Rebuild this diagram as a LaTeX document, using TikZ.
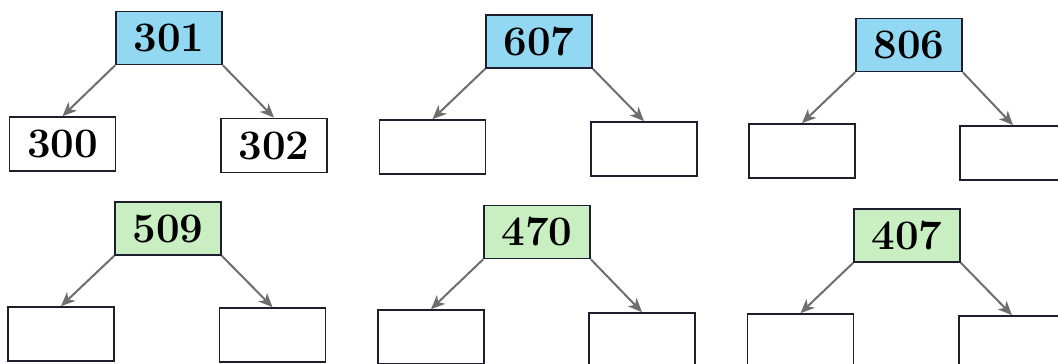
\documentclass[tikz,border=0pt]{standalone}
\usetikzlibrary{arrows.meta}
\definecolor{topblue}{HTML}{92D8F2}
\definecolor{topgreen}{HTML}{C8EEC2}
\definecolor{arrowgray}{HTML}{6E6E6E}
\definecolor{boxline}{HTML}{1E1E2E}
\tikzset{
  numbox/.style={draw=boxline, line width=1.7pt, minimum width=106pt, minimum height=53pt, inner sep=0pt,
    font=\fontsize{42}{46}\selectfont\bfseries},
  bluebox/.style={numbox, fill=topblue},
  greenbox/.style={numbox, fill=topgreen},
  ansbox/.style={numbox, fill=white, minimum height=54pt},
  conn/.style={draw=arrowgray, line width=2pt, -{Stealth[length=14pt,width=12pt,inset=4pt]}}
}
\begin{document}
\begin{tikzpicture}[x=1pt,y=-1pt]
\useasboundingbox (0,0) rectangle (1058,364);
\clip (0,0) rectangle (1058,364);
\fill[white] (0,0) rectangle (1058,364);
% top row
\node[bluebox] (a) at (169,38) {301};
\node[ansbox] (al) at (62.5,144) {300};
\node[ansbox] (ar) at (274,145.5) {302};
\node[bluebox] (b) at (539,41.5) {607};
\node[ansbox] (bl) at (432.5,147) {};
\node[ansbox] (br) at (644,149) {};
\node[bluebox] (c) at (909,45) {806};
\node[ansbox] (cl) at (802,151) {};
\node[ansbox] (cr) at (1013,153) {};
% bottom row
\node[greenbox] (d) at (168,228.5) {509};
\node[ansbox] (dl) at (61,334) {};
\node[ansbox] (dr) at (272.5,335) {};
\node[greenbox] (e) at (537,232) {470};
\node[ansbox] (el) at (431,337) {};
\node[ansbox] (er) at (642,340) {};
\node[greenbox] (f) at (907,235.5) {407};
\node[ansbox] (fl) at (800.5,341) {};
\node[ansbox] (fr) at (1012,343) {};
% connectors
\foreach \t in {a,b,c,d,e,f}{
  \draw[conn] (\t.south west) -- (\t l.north);
  \draw[conn] (\t.south east) -- (\t r.north);
}
\end{tikzpicture}
\end{document}
